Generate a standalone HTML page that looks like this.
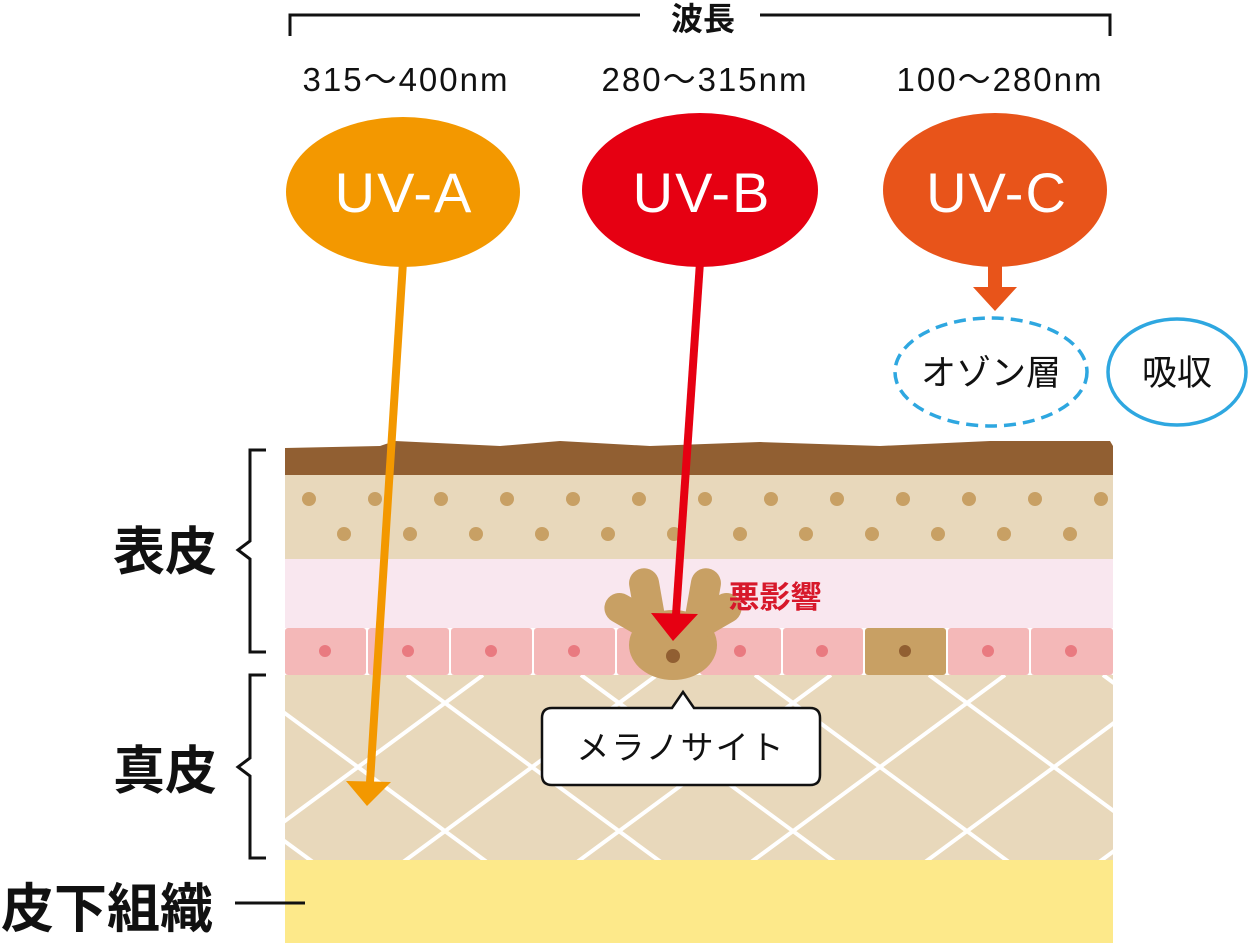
<!DOCTYPE html>
<html><head><meta charset="utf-8"><style>
html,body{margin:0;padding:0;background:#fff;}
svg{display:block;}
text{font-family:"Liberation Sans","Noto Sans CJK JP",sans-serif;}
</style></head><body>
<svg width="1249" height="943" viewBox="0 0 1249 943" xmlns="http://www.w3.org/2000/svg">
<defs><clipPath id="derm"><rect x="285" y="675" width="828" height="185"/></clipPath></defs>
<!-- top bracket -->
<path d="M290 36 V15 H640 M760 15 H1110 V36" fill="none" stroke="#111" stroke-width="3"/>
<text x="703" y="30" font-size="32" text-anchor="middle" font-weight="bold" fill="#111">波長</text>
<text x="406" y="91" font-size="33" letter-spacing="2" text-anchor="middle" fill="#111">315〜400nm</text>
<text x="705" y="91" font-size="33" letter-spacing="2" text-anchor="middle" fill="#111">280〜315nm</text>
<text x="1000" y="91" font-size="33" letter-spacing="2" text-anchor="middle" fill="#111">100〜280nm</text>
<!-- ellipses -->
<ellipse cx="403" cy="192" rx="117" ry="75" fill="#f39800"/>
<ellipse cx="700" cy="190" rx="118" ry="77" fill="#e60012"/>
<ellipse cx="995" cy="190" rx="112" ry="77" fill="#e8541a"/>
<text x="404" y="212" font-size="56" letter-spacing="2" text-anchor="middle" fill="#fff">UV-A</text>
<text x="702" y="212" font-size="56" letter-spacing="2" text-anchor="middle" fill="#fff">UV-B</text>
<text x="997" y="212" font-size="56" letter-spacing="2" text-anchor="middle" fill="#fff">UV-C</text>
<!-- UV-C arrow -->
<rect x="988" y="260" width="14" height="30" fill="#e8541a"/>
<polygon points="973,287 1017,287 995,311" fill="#e8541a"/>
<!-- ozone -->
<ellipse cx="991" cy="372" rx="96" ry="54" fill="none" stroke="#2ea7e0" stroke-width="3.5" stroke-dasharray="12 7"/>
<text x="991" y="385" font-size="35" text-anchor="middle" fill="#111">オゾン層</text>
<ellipse cx="1177" cy="372" rx="69" ry="53" fill="none" stroke="#2ea7e0" stroke-width="3.5"/>
<text x="1177" y="385" font-size="35" text-anchor="middle" fill="#111">吸収</text>
<!-- skin layers -->
<path d="M285 448 L380 446 L395 441 L500 446 L560 441 L650 446 L760 442 L880 446 L990 441 L1110 441 L1113 446 V476 H285 Z" fill="#915f32"/>
<rect x="285" y="475" width="828" height="84" fill="#e8d8bb"/>
<rect x="285" y="559" width="828" height="69" fill="#f9e7ef"/>
<g fill="#f4b8b8">
<rect x="285" y="628" width="81" height="47" rx="3"/><rect x="368" y="628" width="81" height="47" rx="3"/><rect x="451" y="628" width="81" height="47" rx="3"/><rect x="534" y="628" width="81" height="47" rx="3"/><rect x="617" y="628" width="81" height="47" rx="3"/><rect x="700" y="628" width="81" height="47" rx="3"/><rect x="783" y="628" width="80" height="47" rx="3"/><rect x="948" y="628" width="81" height="47" rx="3"/><rect x="1031" y="628" width="82" height="47" rx="3"/>
</g>
<rect x="865" y="628" width="81" height="47" rx="3" fill="#c8a064"/>
<circle cx="905" cy="651" r="6" fill="#915f32"/>
<g fill="#e97a80">
<circle cx="325" cy="651" r="6"/><circle cx="408" cy="651" r="6"/><circle cx="491" cy="651" r="6"/><circle cx="574" cy="651" r="6"/><circle cx="740" cy="651" r="6"/><circle cx="822" cy="651" r="6"/><circle cx="988" cy="651" r="6"/><circle cx="1071" cy="651" r="6"/>
</g>
<g fill="#c8a064">
<circle cx="309" cy="499" r="7"/><circle cx="375" cy="499" r="7"/><circle cx="441" cy="499" r="7"/><circle cx="507" cy="499" r="7"/><circle cx="573" cy="499" r="7"/><circle cx="639" cy="499" r="7"/><circle cx="705" cy="499" r="7"/><circle cx="771" cy="499" r="7"/><circle cx="837" cy="499" r="7"/><circle cx="903" cy="499" r="7"/><circle cx="969" cy="499" r="7"/><circle cx="1035" cy="499" r="7"/><circle cx="1101" cy="499" r="7"/>
<circle cx="344" cy="534" r="7"/><circle cx="410" cy="534" r="7"/><circle cx="476" cy="534" r="7"/><circle cx="542" cy="534" r="7"/><circle cx="608" cy="534" r="7"/><circle cx="674" cy="534" r="7"/><circle cx="740" cy="534" r="7"/><circle cx="806" cy="534" r="7"/><circle cx="872" cy="534" r="7"/><circle cx="938" cy="534" r="7"/><circle cx="1004" cy="534" r="7"/><circle cx="1070" cy="534" r="7"/>
</g>
<!-- dermis -->
<rect x="285" y="675" width="828" height="185" fill="#e8d8bb"/>
<g clip-path="url(#derm)" stroke="#fff" stroke-width="4">
<line x1="59" y1="675" x2="412" y2="935"/><line x1="233" y1="675" x2="586" y2="935"/><line x1="407" y1="675" x2="760" y2="935"/><line x1="581" y1="675" x2="934" y2="935"/><line x1="755" y1="675" x2="1108" y2="935"/><line x1="929" y1="675" x2="1282" y2="935"/><line x1="1103" y1="675" x2="1456" y2="935"/>
<line x1="483" y1="675" x2="130" y2="935"/><line x1="657" y1="675" x2="304" y2="935"/><line x1="831" y1="675" x2="478" y2="935"/><line x1="1005" y1="675" x2="652" y2="935"/><line x1="1179" y1="675" x2="826" y2="935"/><line x1="1353" y1="675" x2="1000" y2="935"/><line x1="1527" y1="675" x2="1174" y2="935"/>
</g>
<rect x="285" y="860" width="828" height="83" fill="#fde98a"/>
<!-- melanocyte -->
<g fill="#c8a064">
<ellipse cx="673" cy="645" rx="44" ry="35"/>
<rect x="632" y="568" width="30" height="66" rx="15" transform="rotate(-10 647 600)"/>
<rect x="688" y="568" width="30" height="66" rx="15" transform="rotate(10 703 600)"/>
<rect x="602" y="602" width="66" height="30" rx="15" transform="rotate(30 635 617)"/>
<rect x="678" y="602" width="66" height="30" rx="15" transform="rotate(-30 711 617)"/>
</g>
<circle cx="673" cy="656" r="7" fill="#915f32"/>
<text x="775" y="608" font-size="31" font-weight="bold" text-anchor="middle" fill="#d7182a">悪影響</text>
<!-- arrows -->
<line x1="403" y1="262" x2="370" y2="782" stroke="#f39800" stroke-width="8"/>
<polygon points="346,781 391,782 367,806" fill="#f39800"/>
<line x1="700" y1="262" x2="676" y2="615" stroke="#e60012" stroke-width="8"/>
<polygon points="651,613 698,614 673,641" fill="#e60012"/>
<!-- melanocyte label -->
<path d="M552 708 H672 L683 692 L694 708 H810 Q820 708 820 718 V775 Q820 785 810 785 H552 Q542 785 542 775 V718 Q542 708 552 708 Z" fill="#fff" stroke="#111" stroke-width="2.5"/>
<text x="681" y="759" font-size="33" letter-spacing="2" text-anchor="middle" fill="#111">メラノサイト</text>
<!-- left brackets -->
<path d="M266 450 H250 V541 L238 550 L250 559 V652 H266" fill="none" stroke="#111" stroke-width="3"/>
<path d="M266 675 H250 V758 L238 767 L250 776 V858 H266" fill="none" stroke="#111" stroke-width="3"/>
<text x="165" y="570" font-size="52" font-weight="bold" text-anchor="middle" fill="#111">表皮</text>
<text x="165" y="789" font-size="52" font-weight="bold" text-anchor="middle" fill="#111">真皮</text>
<text x="107" y="927" font-size="53" font-weight="bold" text-anchor="middle" fill="#111">皮下組織</text>
<line x1="235" y1="903" x2="305" y2="903" stroke="#111" stroke-width="3"/>
</svg>
</body></html>
